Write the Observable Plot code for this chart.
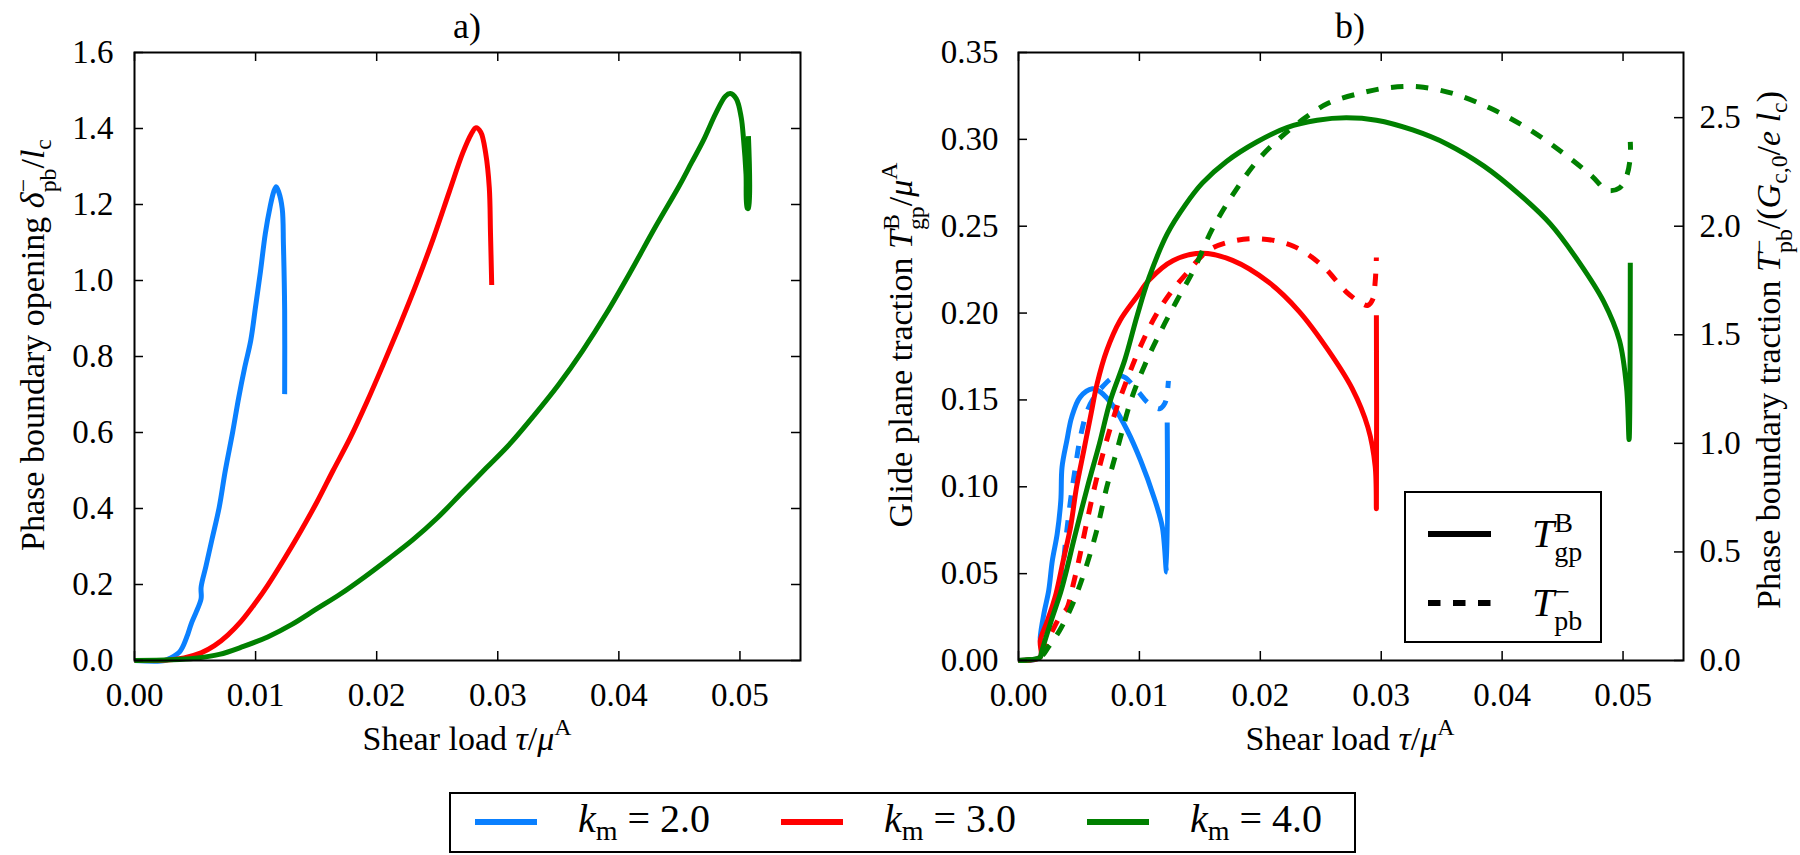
<!DOCTYPE html>
<html>
<head>
<meta charset="utf-8">
<script src="https://cdn.jsdelivr.net/npm/d3@7"></script>
<script src="https://cdn.jsdelivr.net/npm/@observablehq/plot@0.6"></script>
<style>
  html, body { margin: 0; padding: 0; background: #fff; }
  body { width: 1800px; height: 855px; overflow: hidden; font-family: "Liberation Serif", "DejaVu Serif", "Noto Serif", "FreeSerif", "Nimbus Roman", "Times New Roman", Times, serif; color: #000; }
  #root { position: relative; width: 1800px; height: 855px; }
  .panel { position: absolute; top: 0; }
  .txt { position: absolute; white-space: nowrap; line-height: 1; }
  .rot { transform: translate(-50%, -50%) rotate(-90deg); transform-origin: center center; }
  .hcenter { transform: translateX(-50%); }
  .sup { font-size: 0.7em; position: relative; top: -0.62em; }
  .sub { font-size: 0.7em; position: relative; top: 0.28em; }
  .ss { display: inline-flex; flex-direction: column; font-size: 0.7em; line-height: 1.05; vertical-align: 0.55em; }
  .ss > span { display: block; }
  .box { position: absolute; border: 2px solid #000; box-sizing: border-box; background: #fff; }
</style>
</head>
<body>
<div id="root"></div>
<script>
// ---- axes ----
const tauTicks = [0, 0.01, 0.02, 0.03, 0.04, 0.05];
const openingTicks = [0, 0.2, 0.4, 0.6, 0.8, 1.0, 1.2, 1.4, 1.6];
const glideTicks = [0, 0.05, 0.10, 0.15, 0.20, 0.25, 0.30, 0.35];
const boundaryTicks = [0, 0.5, 1.0, 1.5, 2.0, 2.5];
const boundaryPerGlide = 8; // right-hand traction axis spans 8x the left one

// ---- series ----
const kmValues = [2.0, 3.0, 4.0];
const kmColors = ["#0a80ff", "#ff0000", "#008000"];

// a) phase boundary opening δ⁻_pb / l_c  vs shear load τ/μ^A
const opening_k2 = [[0,0],[0.0025,0],[0.0030,0.007],[0.0037,0.022],[0.0040,0.037],[0.0044,0.069],[0.0047,0.098],[0.0051,0.128],[0.0055,0.163],[0.0055,0.193],[0.0059,0.248],[0.0064,0.319],[0.0070,0.404],[0.0075,0.500],[0.0081,0.600],[0.0086,0.691],[0.0091,0.771],[0.0096,0.842],[0.0100,0.932],[0.0104,1.023],[0.0108,1.123],[0.0112,1.194],[0.0115,1.234],[0.0117,1.247],[0.0119,1.234],[0.0122,1.189],[0.0123,1.093],[0.0124,0.922],[0.0124,0.701]];
const opening_k3 = [[0,0],[0.0027,0.001],[0.0041,0.007],[0.0055,0.020],[0.0066,0.039],[0.0077,0.067],[0.0088,0.103],[0.0099,0.148],[0.0110,0.198],[0.0123,0.264],[0.0137,0.339],[0.0151,0.419],[0.0164,0.500],[0.0178,0.585],[0.0192,0.681],[0.0205,0.776],[0.0219,0.882],[0.0233,0.993],[0.0247,1.113],[0.0260,1.234],[0.0271,1.335],[0.0278,1.385],[0.0282,1.402],[0.0286,1.390],[0.0290,1.335],[0.0293,1.244],[0.0294,1.123],[0.0295,0.988]];
const opening_k4 = [[0,0],[0.003,0.002],[0.005,0.006],[0.007,0.016],[0.009,0.037],[0.011,0.062],[0.013,0.095],[0.015,0.135],[0.017,0.175],[0.019,0.220],[0.021,0.268],[0.023,0.318],[0.025,0.375],[0.027,0.440],[0.029,0.505],[0.031,0.570],[0.033,0.645],[0.035,0.725],[0.037,0.815],[0.039,0.915],[0.041,1.025],[0.043,1.140],[0.045,1.250],[0.046,1.310],[0.047,1.370],[0.048,1.440],[0.0488,1.485],[0.0492,1.492],[0.0497,1.478],[0.0501,1.430],[0.0503,1.370],[0.0505,1.280],[0.0506,1.190],[0.0507,1.190],[0.0507,1.380]];

// b) glide plane traction T^B_gp / μ^A (solid, left axis)
const glide_k2 = [[0,0],[0.0018,0.002],[0.0018,0.0134],[0.0021,0.0269],[0.0025,0.0403],[0.0028,0.0576],[0.0032,0.0729],[0.0035,0.0921],[0.0036,0.1113],[0.0040,0.1266],[0.0044,0.1401],[0.0051,0.1516],[0.0061,0.1564],[0.0068,0.1545],[0.0079,0.1458],[0.0090,0.1324],[0.0101,0.1151],[0.0112,0.0940],[0.0119,0.0767],[0.01225,0.051],[0.0123,0.137]];
const glide_k3 = [[0,0],[0.0018,0.002],[0.0018,0.0115],[0.0024,0.023],[0.0031,0.0384],[0.0037,0.0576],[0.0043,0.0767],[0.0048,0.0998],[0.0054,0.1209],[0.0060,0.142],[0.0065,0.1593],[0.0073,0.1785],[0.0084,0.1957],[0.0098,0.2095],[0.0108,0.219],[0.0128,0.2303],[0.0152,0.2344],[0.0177,0.2303],[0.0207,0.2177],[0.0232,0.201],[0.0256,0.1788],[0.0276,0.1565],[0.0289,0.1342],[0.0295,0.1119],[0.0296,0.0874],[0.0296,0.1988]];
const glide_k4 = [[0,0],[0.0018,0.002],[0.0019,0.0047],[0.0027,0.0228],[0.0035,0.0395],[0.0039,0.0499],[0.0046,0.0700],[0.0057,0.0998],[0.0067,0.125],[0.0076,0.1497],[0.0088,0.1732],[0.0098,0.1982],[0.0108,0.2205],[0.0123,0.2456],[0.0138,0.2623],[0.0152,0.2748],[0.0172,0.2873],[0.0197,0.2985],[0.0222,0.3068],[0.0247,0.311],[0.0271,0.3124],[0.0296,0.311],[0.0326,0.3054],[0.0355,0.2971],[0.0385,0.2846],[0.0415,0.2679],[0.0440,0.2512],[0.0464,0.2289],[0.0484,0.2066],[0.0497,0.1843],[0.0503,0.1565],[0.0505,0.1272],[0.0506,0.2289]];

// b) phase boundary traction T⁻_pb / (G_c,0 / e l_c) (dashed, right axis)
const boundary_k2 = [[0,0],[0.0018,0.016],[0.0020,0.064],[0.0024,0.136],[0.0029,0.232],[0.0035,0.352],[0.0039,0.552],[0.0043,0.736],[0.0047,0.888],[0.0051,1.024],[0.0057,1.152],[0.0064,1.224],[0.0070,1.264],[0.0076,1.296],[0.0082,1.312],[0.0088,1.304],[0.0094,1.272],[0.0100,1.232],[0.0106,1.192],[0.0112,1.168],[0.0117,1.160],[0.0121,1.184],[0.0123,1.232],[0.0124,1.288]];
const boundary_k3 = [[0,0],[0.0018,0.016],[0.0022,0.064],[0.0028,0.136],[0.0035,0.208],[0.0040,0.240],[0.0045,0.344],[0.0050,0.464],[0.0056,0.624],[0.0063,0.800],[0.0071,0.976],[0.0081,1.160],[0.0091,1.312],[0.0101,1.448],[0.0113,1.584],[0.0125,1.688],[0.0138,1.776],[0.0157,1.888],[0.0177,1.931],[0.0200,1.942],[0.0227,1.909],[0.0251,1.820],[0.0271,1.698],[0.0284,1.644],[0.0289,1.636],[0.0293,1.664],[0.0295,1.744],[0.0296,1.856]];
const boundary_k4 = [[0,0],[0.0018,0.016],[0.0025,0.064],[0.0034,0.138],[0.0044,0.250],[0.0054,0.399],[0.0064,0.584],[0.0073,0.798],[0.0083,1.000],[0.0093,1.198],[0.0105,1.368],[0.0118,1.520],[0.0131,1.658],[0.0145,1.800],[0.0160,1.984],[0.0177,2.143],[0.0197,2.298],[0.0217,2.410],[0.0237,2.499],[0.0256,2.566],[0.0281,2.610],[0.0306,2.638],[0.0331,2.642],[0.0360,2.610],[0.0390,2.544],[0.0420,2.454],[0.0449,2.343],[0.0474,2.232],[0.0487,2.165],[0.0497,2.176],[0.0503,2.232],[0.0506,2.320],[0.0506,2.388]];

const openingSeries = [opening_k2, opening_k3, opening_k4];
const glideSeries = [glide_k2, glide_k3, glide_k4];
const boundarySeries = [boundary_k2, boundary_k3, boundary_k4];

// ---- layout ----
const W = 900, H = 770, TOP = 52, BOTTOM = 110;
const frameH = H - TOP - BOTTOM;
const tickLen = 9;
const serif = '"Liberation Serif", "DejaVu Serif", "Noto Serif", "FreeSerif", "Nimbus Roman", "Times New Roman", Times, serif';
const svgStyle = {fontFamily: serif, fontSize: "33px", background: "transparent", overflow: "visible", color: "#000"};
const lineStyle = {strokeWidth: 5, strokeLinejoin: "round", strokeLinecap: "butt", curve: "catmull-rom"};
const root = document.getElementById("root");

function frameTicks(frameW, leftTicks, rightTicks) {
  const t = {stroke: "#000", strokeWidth: 1.5};
  return [
    Plot.tickX(tauTicks, {x: d => d, ...t, insetTop: frameH - tickLen}),
    Plot.tickX(tauTicks, {x: d => d, ...t, insetBottom: frameH - tickLen}),
    Plot.tickY(leftTicks, {y: d => d, ...t, insetRight: frameW - tickLen}),
    Plot.tickY(rightTicks, {y: d => d, ...t, insetLeft: frameW - tickLen})
  ];
}

// a) opening
{
  const mL = 134, mR = 100;
  const chart = Plot.plot({
    width: W, height: H, marginLeft: mL, marginRight: mR, marginTop: TOP, marginBottom: BOTTOM,
    style: svgStyle,
    x: {domain: [0, 0.055]},
    y: {domain: [0, 1.6]},
    marks: [
      ...openingSeries.map((s, i) => Plot.line(s, {x: d => d[0], y: d => d[1], stroke: kmColors[i], ...lineStyle})),
      ...frameTicks(W - mL - mR, openingTicks, openingTicks),
      Plot.frame({stroke: "#000", strokeWidth: 2}),
      Plot.axisX({ticks: tauTicks, tickSize: 0, tickPadding: 22, tickFormat: d => d.toFixed(2), label: null, fontFamily: serif}),
      Plot.axisY({ticks: openingTicks, tickSize: 0, tickPadding: 21, tickFormat: d => d.toFixed(1), label: null, fontFamily: serif})
    ]
  });
  chart.classList.add("panel");
  chart.style.left = "0px";
  root.appendChild(chart);
}

// b) tractions
{
  const mL = 118, mR = 117;
  const chart = Plot.plot({
    width: W, height: H, marginLeft: mL, marginRight: mR, marginTop: TOP, marginBottom: BOTTOM,
    style: svgStyle,
    x: {domain: [0, 0.055]},
    y: {domain: [0, 0.35]},
    marks: [
      ...kmColors.flatMap((c, i) => [
        Plot.line(glideSeries[i], {x: d => d[0], y: d => d[1], stroke: c, ...lineStyle}),
        Plot.line(boundarySeries[i], {x: d => d[0], y: d => d[1] / boundaryPerGlide, stroke: c, ...lineStyle, strokeDasharray: "12.5,12.5"})
      ]),
      ...frameTicks(W - mL - mR, glideTicks, boundaryTicks.map(v => v / boundaryPerGlide)),
      Plot.frame({stroke: "#000", strokeWidth: 2}),
      Plot.axisX({ticks: tauTicks, tickSize: 0, tickPadding: 22, tickFormat: d => d.toFixed(2), label: null, fontFamily: serif}),
      Plot.axisY({ticks: glideTicks, tickSize: 0, tickPadding: 20, tickFormat: d => d.toFixed(2), label: null, fontFamily: serif}),
      Plot.axisY({anchor: "right", ticks: boundaryTicks.map(v => v / boundaryPerGlide), tickSize: 0, tickPadding: 16,
                  tickFormat: d => (d * boundaryPerGlide).toFixed(1), label: null, fontFamily: serif})
    ]
  });
  chart.classList.add("panel");
  chart.style.left = "900px";
  root.appendChild(chart);
}

// ---- text overlays ----
function addText(html, css, cls = "txt") {
  const el = document.createElement("div");
  el.className = cls;
  el.innerHTML = html;
  Object.assign(el.style, css);
  root.appendChild(el);
  return el;
}

addText("a)", {left: "467px", top: "8px", fontSize: "36px"}, "txt hcenter");
addText("b)", {left: "1350px", top: "8px", fontSize: "36px"}, "txt hcenter");

const shearLabel = 'Shear load <i>τ</i>/<i>μ</i><span class="sup">A</span>';
addText(shearLabel, {left: "467px", top: "722px", fontSize: "34px"}, "txt hcenter");
addText(shearLabel, {left: "1350px", top: "722px", fontSize: "34px"}, "txt hcenter");

addText('Phase boundary opening <i>δ</i><span class="ss"><span>−</span><span>pb</span></span>/<i>l</i><span class="sub">c</span>',
  {left: "36px", top: "345px", fontSize: "34px"}, "txt rot");
addText('Glide plane traction <i>T</i><span class="ss"><span>B</span><span>gp</span></span>/<i>μ</i><span class="sup">A</span>',
  {left: "904px", top: "345px", fontSize: "34px"}, "txt rot");
addText('Phase boundary traction <i>T</i><span class="ss"><span>−</span><span>pb</span></span>/(<i>G</i><span class="sub">c,0</span>/<i>e</i> <i>l</i><span class="sub">c</span>)',
  {left: "1772px", top: "350px", fontSize: "34px"}, "txt rot");

// legend inside panel b: line styles
{
  const box = document.createElement("div");
  box.className = "box";
  Object.assign(box.style, {left: "1404px", top: "491px", width: "198px", height: "152px"});
  root.appendChild(box);
  const swatches = [
    {y: 534, dash: null, label: '<i>T</i><span class="ss"><span>B</span><span>gp</span></span>'},
    {y: 603, dash: "12.5,12.5", label: '<i>T</i><span class="ss"><span>−</span><span>pb</span></span>'}
  ];
  for (const s of swatches) {
    const svg = d3.create("svg").attr("width", 70).attr("height", 12)
      .style("position", "absolute").style("left", "1428px").style("top", (s.y - 6) + "px");
    svg.append("line").attr("x1", 0).attr("x2", 63).attr("y1", 6).attr("y2", 6)
      .attr("stroke", "#000").attr("stroke-width", 6).attr("stroke-dasharray", s.dash);
    root.appendChild(svg.node());
    addText(s.label, {left: "1532px", top: (s.y - 26) + "px", fontSize: "40px"});
  }
}

// bottom legend: k_m values
{
  const box = document.createElement("div");
  box.className = "box";
  Object.assign(box.style, {left: "449px", top: "792px", width: "907px", height: "61px"});
  root.appendChild(box);
  kmValues.forEach((k, i) => {
    const x0 = 475 + i * 306;
    const svg = d3.create("svg").attr("width", 70).attr("height", 12)
      .style("position", "absolute").style("left", x0 + "px").style("top", "816px");
    svg.append("line").attr("x1", 0).attr("x2", 62).attr("y1", 6).attr("y2", 6)
      .attr("stroke", kmColors[i]).attr("stroke-width", 6);
    root.appendChild(svg.node());
    addText(`<i>k</i><span class="sub">m</span> = ${k.toFixed(1)}`, {left: (x0 + 103) + "px", top: "799px", fontSize: "40px"});
  });
}
</script>
</body>
</html>
